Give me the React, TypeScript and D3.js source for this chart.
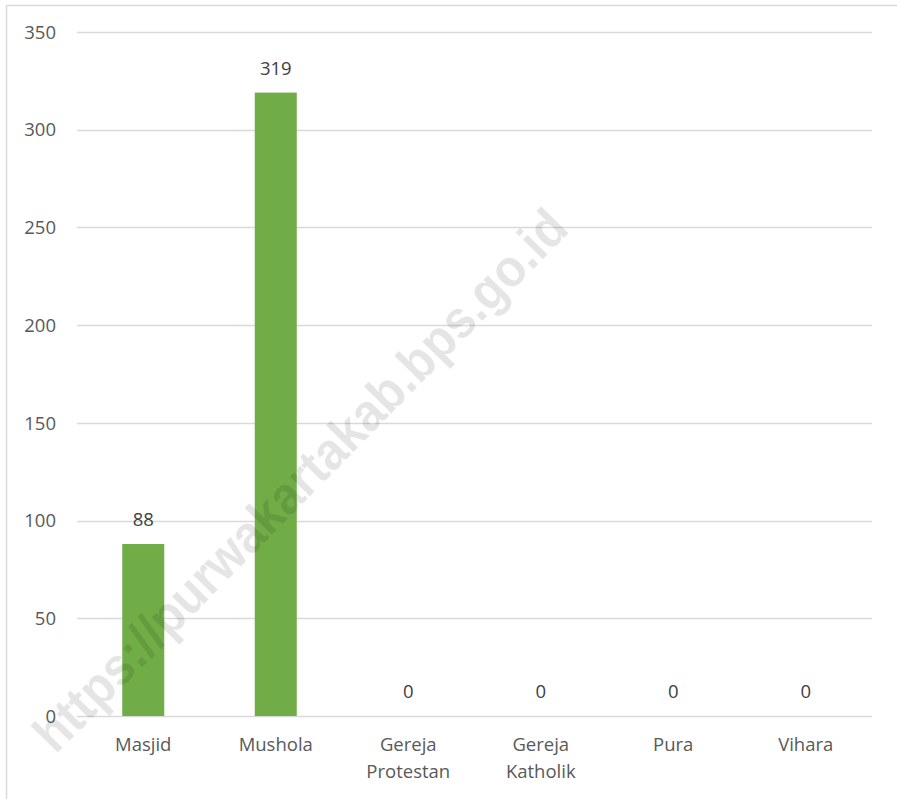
import { useEffect, useRef } from 'react';
import * as d3 from 'd3';

const categories = ['Masjid', 'Mushola', 'Gereja Protestan', 'Gereja Katholik', 'Pura', 'Vihara'];
const counts = [88, 319, 0, 0, 0, 0];
const yTicks = [0, 50, 100, 150, 200, 250, 300, 350];
const watermark = 'https://purwakartakab.bps.go.id';

const W = 897, H = 799;
const FONT = '"Open Sans", "Noto Sans", sans-serif';

export default function App() {
  const svgRef = useRef<SVGSVGElement>(null);

  useEffect(() => {
    if (!svgRef.current) return;
    const svg = d3.select(svgRef.current);
    svg.selectAll('*').remove();

    const left = 77, right = 872, top = 32, bottom = 716;

    const x = d3.scaleBand<string>().domain(categories).range([left, right])
      .paddingInner(0.683).paddingOuter(0.3415);
    const y = d3.scaleLinear().domain([0, 350]).range([bottom, top]);

    svg.append('rect').attr('width', W).attr('height', H).attr('fill', '#fff');
    // chart border
    svg.append('rect')
      .attr('x', 6.5).attr('y', 5.5).attr('width', W + 10).attr('height', H + 10)
      .attr('fill', 'none').attr('stroke', '#d9d9d9').attr('stroke-width', 1.5);

    // gridlines
    svg.append('g').selectAll('line').data(yTicks).enter().append('line')
      .attr('x1', left).attr('x2', right)
      .attr('y1', d => Math.round(y(d)) + 0.5).attr('y2', d => Math.round(y(d)) + 0.5)
      .attr('stroke', '#d9d9d9').attr('stroke-width', 1.3);

    // y tick labels
    svg.append('g').selectAll('text').data(yTicks).enter().append('text')
      .attr('x', 56).attr('y', d => y(d)).attr('dy', '0.36em')
      .attr('text-anchor', 'end').attr('font-family', FONT).attr('font-size', 18.5)
      .attr('fill', '#595959').text(d => d);

    // bars
    svg.append('g').selectAll('rect').data(categories).enter().append('rect')
      .attr('x', d => x(d) ?? 0).attr('width', x.bandwidth())
      .attr('y', (_, i) => y(counts[i])).attr('height', (_, i) => bottom - y(counts[i]))
      .attr('fill', '#70ad47');

    // data labels
    svg.append('g').selectAll('text').data(categories).enter().append('text')
      .attr('x', d => (x(d) ?? 0) + x.bandwidth() / 2)
      .attr('y', (_, i) => y(counts[i]) - 18)
      .attr('text-anchor', 'middle').attr('font-family', FONT).attr('font-size', 18.5)
      .attr('fill', '#404040').text((_, i) => counts[i]);

    // category labels
    const cat = svg.append('g').selectAll('text').data(categories).enter().append('text')
      .attr('x', d => (x(d) ?? 0) + x.bandwidth() / 2)
      .attr('y', 751)
      .attr('text-anchor', 'middle').attr('font-family', FONT).attr('font-size', 18.5)
      .attr('fill', '#595959');
    cat.each(function (d) {
      const t = d3.select(this);
      d.split(' ').forEach((line, i) => {
        t.append('tspan').attr('x', (x(d) ?? 0) + x.bandwidth() / 2)
          .attr('dy', i === 0 ? 0 : 27).text(line);
      });
    });

    // watermark
    svg.append('text')
      .attr('transform', 'translate(300,480) rotate(-45.5)')
      .attr('text-anchor', 'middle').attr('dominant-baseline', 'central')
      .attr('font-family', '"Liberation Sans", Arial, sans-serif').attr('font-weight', 700)
      .attr('font-size', 53).attr('textLength', 735).attr('lengthAdjust', 'spacingAndGlyphs')
      .attr('fill', '#000').attr('fill-opacity', 0.1)
      .text(watermark);
  }, []);

  return (
    <div style={{ position: 'absolute', left: 0, top: 0 }}>
      <svg ref={svgRef} width={W} height={H} style={{ display: 'block' }} />
    </div>
  );
}
